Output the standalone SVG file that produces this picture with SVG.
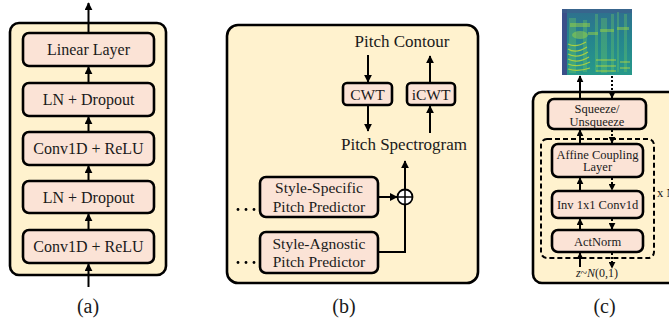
<svg xmlns="http://www.w3.org/2000/svg" width="669" height="322" viewBox="0 0 669 322">
<style>
.panel{fill:#FFF2CE;stroke:#000;stroke-width:2.6}
.box{fill:#FBE3D6;stroke:#000;stroke-width:2.6}
.t{font-family:"Liberation Serif","Times New Roman",serif;fill:#1a1a1a;text-anchor:middle}
.a{font-size:16px}
.b{font-size:15.5px}
.bl{font-size:17px}
.c{font-size:12.5px}
.cap{font-size:20px}
.ln{stroke:#000;stroke-width:2;fill:none}
.dot{stroke:#000;stroke-width:2;fill:none;stroke-dasharray:2,2}
.dash{fill:none;stroke:#000;stroke-width:2;stroke-dasharray:5,3}
</style>
<defs>
<marker id="ah" viewBox="0 0 10 10" refX="9" refY="5" markerWidth="8" markerHeight="8" markerUnits="userSpaceOnUse" orient="auto">
<path d="M0,0 L10,5 L0,10 z" fill="#000"/>
</marker>
<marker id="as" viewBox="0 0 10 10" refX="9" refY="5" markerWidth="7" markerHeight="7" markerUnits="userSpaceOnUse" orient="auto">
<path d="M0,0 L10,5 L0,10 z" fill="#000"/>
</marker>
<linearGradient id="spg" x1="0" y1="0" x2="0" y2="1">
<stop offset="0" stop-color="#2f6f8e"/>
<stop offset="0.45" stop-color="#25848e"/>
<stop offset="1" stop-color="#27998a"/>
</linearGradient>
<filter id="soft" x="0" y="0" width="1" height="1">
<feGaussianBlur stdDeviation="0.7"/>
</filter>
<clipPath id="spclip"><rect x="562" y="9" width="70" height="66"/></clipPath>
</defs>

<!-- Panel (a) -->
<g id="panel-a">
<rect class="panel" x="10" y="23" width="156" height="252" rx="9"/>
</g>
<g id="a-linear"><rect class="box" x="23" y="33" width="131" height="33" rx="6"/><text class="t a" x="88.5" y="55">Linear Layer</text></g>
<g id="a-ln2"><rect class="box" x="23" y="83" width="131" height="33" rx="6"/><text class="t a" x="88.5" y="105">LN + Dropout</text></g>
<g id="a-conv2"><rect class="box" x="23" y="132" width="131" height="33" rx="6"/><text class="t a" x="88.5" y="154">Conv1D + ReLU</text></g>
<g id="a-ln1"><rect class="box" x="23" y="181" width="131" height="32" rx="6"/><text class="t a" x="88.5" y="203">LN + Dropout</text></g>
<g id="a-conv1"><rect class="box" x="23" y="230" width="131" height="33" rx="6"/><text class="t a" x="88.5" y="252">Conv1D + ReLU</text></g>
<text class="t cap" x="88" y="313">(a)</text>

<!-- Panel (b) -->
<g id="panel-b">
<rect class="panel" x="227" y="25" width="251" height="258" rx="11"/>
</g>
<g id="b-contour"><text class="t bl" x="402" y="47">Pitch Contour</text></g>
<g id="b-cwt"><rect class="box" x="343" y="83" width="49" height="22" rx="4"/><text class="t b" x="367.5" y="100">CWT</text></g>
<g id="b-icwt"><rect class="box" x="407" y="83" width="48" height="22" rx="4"/><text class="t b" x="431" y="100">iCWT</text></g>
<g id="b-spec"><text class="t bl" x="404" y="150">Pitch Spectrogram</text></g>
<g id="b-specific"><rect class="box" x="260" y="177" width="118" height="40" rx="6"/><text class="t b" x="319" y="193">Style-Specific</text><text class="t b" x="319" y="211.5">Pitch Predictor</text></g>
<g id="b-agnostic"><rect class="box" x="260" y="232" width="118" height="41" rx="6"/><text class="t b" x="319" y="249">Style-Agnostic</text><text class="t b" x="319" y="267">Pitch Predictor</text></g>
<g id="b-sum"><circle cx="405" cy="197" r="7.5" fill="#fff" stroke="#000" stroke-width="1.8"/><path d="M398,197 H412 M405,190 V204" stroke="#000" stroke-width="1.5"/></g>
<g id="b-dots" fill="#000">
<circle cx="238" cy="209.5" r="1.4"/><circle cx="246" cy="209.5" r="1.4"/><circle cx="254" cy="209.5" r="1.4"/>
<circle cx="238" cy="262.5" r="1.4"/><circle cx="246" cy="262.5" r="1.4"/><circle cx="254" cy="262.5" r="1.4"/>
</g>
<text class="t cap" x="344" y="313">(b)</text>

<!-- Panel (c) -->
<g id="panel-c">
<rect class="panel" x="533" y="92" width="180" height="191" rx="9"/>
</g>
<g id="c-spectrogram" clip-path="url(#spclip)">
<rect x="562" y="9" width="70" height="66" fill="url(#spg)"/>
<g filter="url(#soft)">
<rect x="562" y="9" width="5" height="66" fill="#3b4f8a"/>
<rect x="562" y="9" width="70" height="4" fill="#3a5f8c" opacity="0.7"/>
<g fill="#6cc866" opacity="0.35">
<rect x="569" y="18" width="7" height="55"/>
<rect x="583" y="20" width="4" height="52"/>
<rect x="595" y="14" width="3" height="58"/>
<rect x="601" y="18" width="6" height="55"/>
<rect x="611" y="14" width="3" height="58"/>
<rect x="617" y="12" width="2" height="60"/>
<rect x="624" y="14" width="3" height="58"/>
</g>
<g fill="#a6db3c" opacity="0.45">
<rect x="570" y="23" width="20" height="4"/>
<rect x="588" y="32" width="10" height="3"/>
<rect x="600" y="29" width="14" height="3"/>
<rect x="617" y="27" width="12" height="3"/>
<ellipse cx="580" cy="35" rx="8" ry="4"/>
</g>
<g stroke="#cfe12e" stroke-width="1.2" fill="none" opacity="0.75">
<path d="M568,44 Q576,48 586,42"/>
<path d="M568,49 Q576,54 587,47"/>
<path d="M568,54 Q577,59 588,52"/>
<path d="M568,59 Q577,64 589,57"/>
<path d="M568,64 Q578,68 590,62"/>
<path d="M568,69 Q578,72 590,68"/>
<path d="M596,60 H616 M596,66 H616 M596,71 H616 M620,62 H630 M620,68 H630"/>
</g>
</g>
</g>
<g id="c-squeeze"><rect class="box" x="548" y="99" width="98" height="30" rx="6"/><text class="t c" x="597" y="112.5">Squeeze/</text><text class="t c" x="597" y="125.5">Unsqueeze</text></g>
<rect class="dash" x="541" y="139" width="113" height="119" rx="6"/>
<g id="c-affine"><rect class="box" x="552" y="144" width="91" height="33" rx="6"/><text class="t c" x="597.5" y="158.5">Affine Coupling</text><text class="t c" x="597.5" y="171">Layer</text></g>
<g id="c-inv"><rect class="box" x="552" y="191" width="91" height="27" rx="6"/><text class="t c" x="597.5" y="209">Inv 1x1 Conv1d</text></g>
<g id="c-actnorm"><rect class="box" x="552" y="230" width="91" height="22" rx="6"/><text class="t c" x="597.5" y="245.5">ActNorm</text></g>
<text class="t c" x="657" y="197" style="text-anchor:start">x N</text>
<text class="t" x="597" y="277" style="font-size:12px"><tspan font-style="italic">z</tspan>~<tspan font-style="italic">N</tspan>(0,1)</text>
<text class="t cap" x="604.5" y="313">(c)</text>

<!-- Connectors -->
<g id="connectors">
<line class="ln" x1="88.5" y1="33" x2="88.5" y2="3" marker-end="url(#ah)"/>
<line class="ln" x1="88.5" y1="83" x2="88.5" y2="67" marker-end="url(#ah)"/>
<line class="ln" x1="88.5" y1="132" x2="88.5" y2="117" marker-end="url(#ah)"/>
<line class="ln" x1="88.5" y1="181" x2="88.5" y2="166" marker-end="url(#ah)"/>
<line class="ln" x1="88.5" y1="230" x2="88.5" y2="214" marker-end="url(#ah)"/>
<line class="ln" x1="88.5" y1="287" x2="88.5" y2="264" marker-end="url(#ah)"/>

<line class="ln" x1="368" y1="55" x2="368" y2="82" marker-end="url(#ah)"/>
<line class="ln" x1="368" y1="106" x2="368" y2="131" marker-end="url(#ah)"/>
<line class="ln" x1="430" y1="133" x2="430" y2="106" marker-end="url(#ah)"/>
<line class="ln" x1="430" y1="82" x2="430" y2="56" marker-end="url(#ah)"/>
<line class="ln" x1="379" y1="197" x2="397" y2="197" marker-end="url(#ah)"/>
<polyline class="ln" points="379,252 405,252 405,204.5"/>
<line class="ln" x1="405" y1="189.5" x2="405" y2="161" marker-end="url(#ah)"/>

<line class="ln" x1="580" y1="99" x2="580" y2="76" marker-end="url(#as)"/>
<line class="dot" x1="612" y1="76" x2="612" y2="98" marker-end="url(#as)"/>
<line class="ln" x1="580" y1="144" x2="580" y2="130" marker-end="url(#as)"/>
<line class="dot" x1="612" y1="130" x2="612" y2="143" marker-end="url(#as)"/>
<line class="ln" x1="580" y1="191" x2="580" y2="178" marker-end="url(#as)"/>
<line class="dot" x1="612" y1="178" x2="612" y2="190" marker-end="url(#as)"/>
<line class="ln" x1="580" y1="230" x2="580" y2="219" marker-end="url(#as)"/>
<line class="dot" x1="612" y1="219" x2="612" y2="229" marker-end="url(#as)"/>
<line class="ln" x1="580" y1="267" x2="580" y2="253" marker-end="url(#as)"/>
<line class="dot" x1="612" y1="253" x2="612" y2="268" marker-end="url(#as)"/>
</g>
</svg>
